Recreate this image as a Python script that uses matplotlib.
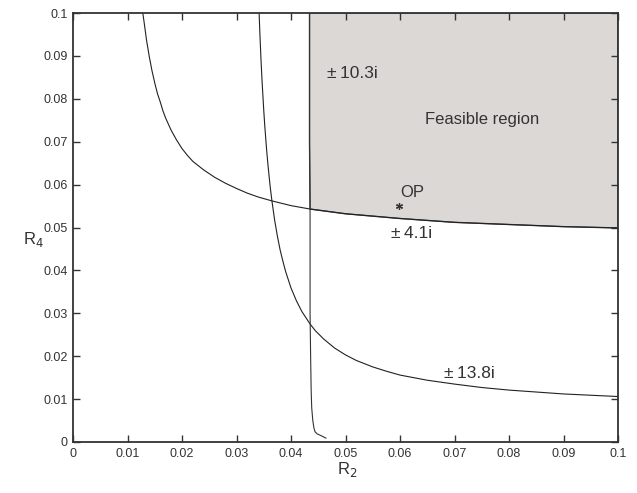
import matplotlib
matplotlib.use("Agg")
import matplotlib.pyplot as plt
import numpy as np

plt.rcParams['font.family'] = ['Liberation Sans', 'DejaVu Sans']

# Curve labelled +-4.1i
a_x = [0.0128, 0.013, 0.0135, 0.014, 0.0145, 0.015, 0.0155, 0.016, 0.0165, 0.017, 0.018,
       0.019, 0.020, 0.021, 0.022, 0.024, 0.026, 0.028, 0.030, 0.032, 0.034, 0.0365, 0.040,
       0.0435, 0.05, 0.06, 0.07, 0.08, 0.09, 0.1]
a_y = [0.1, 0.0983, 0.0936, 0.0898, 0.0865, 0.0837, 0.0812, 0.0793, 0.0772, 0.0755, 0.0727,
       0.0704, 0.0684, 0.0668, 0.0654, 0.0634, 0.0617, 0.0603, 0.0591, 0.0580, 0.0571, 0.0562,
       0.0551, 0.0543, 0.0532, 0.0521, 0.0512, 0.0507, 0.0502, 0.0499]

# Curve labelled +-13.8i
b_x = [0.03415, 0.0343, 0.0345, 0.0347, 0.035, 0.0352, 0.0355, 0.0357, 0.036, 0.0362,
       0.0365, 0.037, 0.0375, 0.038, 0.0385, 0.039, 0.040, 0.041, 0.042, 0.0435, 0.0445,
       0.046, 0.048, 0.05, 0.052, 0.055, 0.0575, 0.06, 0.065, 0.07, 0.075, 0.08, 0.09, 0.1]
b_y = [0.1, 0.0949, 0.089, 0.0839, 0.0773, 0.0735, 0.0685, 0.0656, 0.0617, 0.0593,
       0.0562, 0.0517, 0.048, 0.0448, 0.0422, 0.0398, 0.0359, 0.0329, 0.0304, 0.0275, 0.0259,
       0.024, 0.0219, 0.0203, 0.019, 0.0175, 0.0165, 0.0156, 0.0144, 0.0135, 0.0127, 0.0121,
       0.0112, 0.0106]

# Curve labelled +-10.3i
c_x = [0.0434, 0.0434, 0.0435, 0.0435, 0.0435, 0.0436, 0.0437, 0.0438, 0.0440, 0.0442,
       0.0444, 0.0448, 0.0453, 0.0458, 0.0464]
c_y = [0.1, 0.07, 0.0543, 0.04, 0.03, 0.02, 0.012, 0.008, 0.005, 0.0033,
       0.0024, 0.0019, 0.0016, 0.0013, 0.0009]

op_x, op_y = [0.0599], [0.055]

x_ticks = [0, 0.01, 0.02, 0.03, 0.04, 0.05, 0.06, 0.07, 0.08, 0.09, 0.1]
x_tick_labels = ['0', '0.01', '0.02', '0.03', '0.04', '0.05', '0.06', '0.07', '0.08', '0.09', '0.1']
y_ticks = x_ticks
y_tick_labels = x_tick_labels

fig = plt.figure(figsize=(6.37, 4.93), dpi=100)
ax = fig.add_axes([73/637, 1-442/493, 545/637, 429/493])

# Feasible region polygon
ax_arr = np.array(a_x); ay_arr = np.array(a_y)
mask = ax_arr >= 0.0435
cx_arr = np.array(c_x); cy_arr = np.array(c_y)
cm = cy_arr >= 0.0543
poly_x = [0.0434, 0.1] + list(ax_arr[mask][::-1]) + list(cx_arr[cm][::-1])
poly_y = [0.1, 0.1] + list(ay_arr[mask][::-1]) + list(cy_arr[cm][::-1])
ax.fill(poly_x, poly_y, facecolor='#dcd8d6', edgecolor='#444444', linewidth=1.0, zorder=1)

lc = '#222222'
ax.plot(a_x, a_y, color=lc, lw=0.8, zorder=2)
ax.plot(b_x, b_y, color=lc, lw=0.8, zorder=2)
ax.plot(c_x, c_y, color='#333333', lw=0.8, zorder=2)
ax.plot(op_x, op_y, marker=(6, 2, 0), linestyle='none', color='#333333',
        markersize=5, markeredgewidth=0.9, zorder=3)

tc = '#333333'
pm = '±\u2009'
ax.text(0.0466, 0.0858, pm + '10.3i', fontsize=12.5, color=tc, va='center', ha='left')
ax.text(0.075, 0.0751, 'Feasible region', fontsize=12, color=tc, va='center', ha='center')
ax.text(0.0600, 0.0581, 'OP', fontsize=12, color=tc, va='center', ha='left')
ax.text(0.0583, 0.0486, pm + '4.1i', fontsize=12.5, color=tc, va='center', ha='left')
ax.text(0.0680, 0.0160, pm + '13.8i', fontsize=12.5, color=tc, va='center', ha='left')

ax.set_xlim(0, 0.1)
ax.set_ylim(0, 0.1)
ax.set_xticks(x_ticks)
ax.set_xticklabels(x_tick_labels)
ax.set_yticks(y_ticks)
ax.set_yticklabels(y_tick_labels)
ax.tick_params(direction='in', length=5, width=1.0, top=True, right=True,
               labelsize=9, labelcolor=tc, color='#333333', pad=4)
for s in ax.spines.values():
    s.set_linewidth(1.3)
    s.set_color('#333333')

ax.set_ylabel('R$_4$', fontsize=12, color=tc, rotation=0, va='center', ha='center')
ax.yaxis.set_label_coords(-0.073, 0.471)
ax.set_xlabel('R$_2$', fontsize=12, color=tc, va='center', ha='center')
ax.xaxis.set_label_coords(0.503, -0.065)

fig.savefig('out.png', dpi=100)
